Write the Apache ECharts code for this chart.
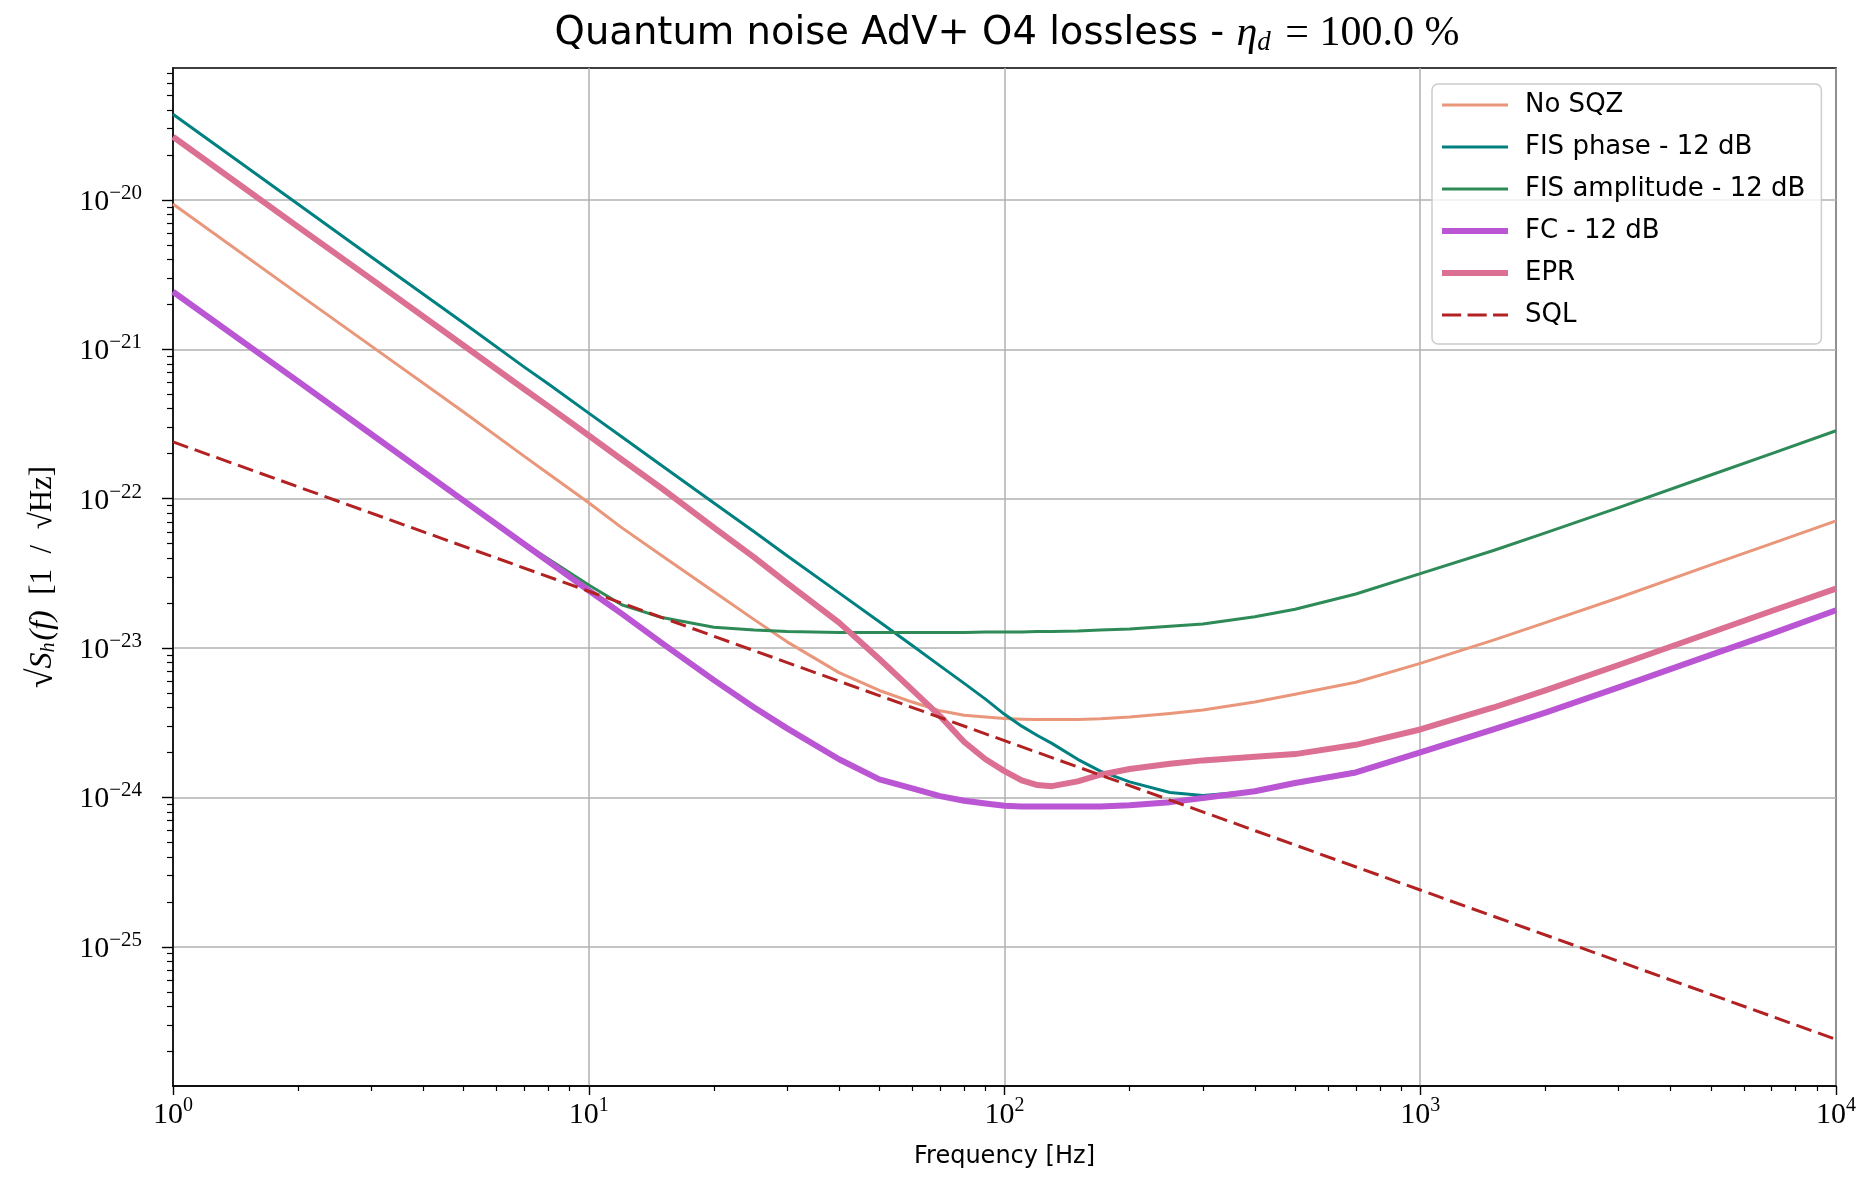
<!DOCTYPE html>
<html><head><meta charset="utf-8">
<script src="https://cdn.jsdelivr.net/npm/echarts@6/dist/echarts.min.js"></script>
<style>html,body{margin:0;padding:0;background:#fff}#c{width:1868px;height:1181px}</style>
</head><body><div id="c"></div>
<script>
// ---- data ----
const freq = [1, 2, 3, 5, 7, 8, 10, 12, 15, 20, 25, 30, 40, 50, 60, 70, 80, 90, 100, 110, 120, 130, 150, 170, 200, 250, 300, 400, 500, 700, 1000, 1500, 2000, 3000, 5000, 7000, 10000];
const noSqz = [9.4e-21, 2.35e-21, 1.05e-21, 3.8e-22, 1.92e-22, 1.47e-22, 9.4e-23, 6.4e-23, 4.15e-23, 2.38e-23, 1.55e-23, 1.1e-23, 6.85e-24, 5.2e-24, 4.35e-24, 3.8e-24, 3.55e-24, 3.45e-24, 3.38e-24, 3.34e-24, 3.32e-24, 3.32e-24, 3.33e-24, 3.36e-24, 3.45e-24, 3.65e-24, 3.85e-24, 4.35e-24, 4.9e-24, 5.9e-24, 7.9e-24, 1.13e-23, 1.48e-23, 2.17e-23, 3.6e-23, 5.0e-23, 7.1e-23];
const fisPhase = [3.74e-20, 9.35e-21, 4.15e-21, 1.5e-21, 7.6e-22, 5.85e-22, 3.74e-22, 2.6e-22, 1.66e-22, 9.35e-23, 6.0e-23, 4.15e-23, 2.34e-23, 1.5e-23, 1.04e-23, 7.6e-24, 5.8e-24, 4.55e-24, 3.6e-24, 3.0e-24, 2.6e-24, 2.3e-24, 1.8e-24, 1.5e-24, 1.27e-24, 1.08e-24, 1.03e-24, 1.1e-24, 1.25e-24, 1.5e-24, 2.0e-24, 2.85e-24, 3.7e-24, 5.45e-24, 9.0e-24, 1.25e-23, 1.78e-23];
const fisAmp = [2.43e-21, 6.1e-22, 2.7e-22, 9.8e-23, 5.0e-23, 3.95e-23, 2.64e-23, 1.95e-23, 1.6e-23, 1.38e-23, 1.32e-23, 1.29e-23, 1.27e-23, 1.27e-23, 1.27e-23, 1.27e-23, 1.27e-23, 1.28e-23, 1.28e-23, 1.28e-23, 1.29e-23, 1.29e-23, 1.3e-23, 1.32e-23, 1.34e-23, 1.4e-23, 1.45e-23, 1.62e-23, 1.82e-23, 2.3e-23, 3.15e-23, 4.5e-23, 5.9e-23, 8.7e-23, 1.44e-22, 2.0e-22, 2.85e-22];
const fc = [2.43e-21, 6.1e-22, 2.7e-22, 9.7e-23, 4.95e-23, 3.8e-23, 2.43e-23, 1.7e-23, 1.08e-23, 6.1e-24, 4.0e-24, 2.9e-24, 1.8e-24, 1.32e-24, 1.15e-24, 1.02e-24, 9.5e-25, 9.1e-25, 8.8e-25, 8.7e-25, 8.7e-25, 8.7e-25, 8.7e-25, 8.7e-25, 8.85e-25, 9.3e-25, 9.9e-25, 1.1e-24, 1.25e-24, 1.47e-24, 2.0e-24, 2.85e-24, 3.7e-24, 5.45e-24, 9.0e-24, 1.25e-23, 1.79e-23];
const epr = [2.65e-20, 6.6e-21, 2.95e-21, 1.06e-21, 5.4e-22, 4.15e-22, 2.65e-22, 1.83e-22, 1.17e-22, 6.4e-23, 4.05e-23, 2.72e-23, 1.48e-23, 8.45e-24, 5.25e-24, 3.5e-24, 2.35e-24, 1.8e-24, 1.5e-24, 1.3e-24, 1.21e-24, 1.19e-24, 1.28e-24, 1.42e-24, 1.55e-24, 1.68e-24, 1.77e-24, 1.87e-24, 1.95e-24, 2.25e-24, 2.85e-24, 4.0e-24, 5.2e-24, 7.7e-24, 1.27e-23, 1.77e-23, 2.5e-23];
const sqlFreq = [1, 10, 100, 1000, 10000];
const sql = [2.4e-22, 2.4e-23, 2.4e-24, 2.4e-25, 2.4e-26];

const seriesNames = ['No SQZ', 'FIS phase - 12 dB', 'FIS amplitude - 12 dB', 'FC - 12 dB', 'EPR', 'SQL'];
const seriesColors = ['#E9967A', '#008080', '#2E8B57', '#BA55D3', '#DB7093', '#B22222'];
const xMajorTicks = [1, 10, 100, 1000, 10000];
const yMajorTicks = [1e-25, 1e-24, 1e-23, 1e-22, 1e-21, 1e-20];
const xMin = 1, xMax = 10000, yMin = 1.17e-26, yMax = 7.64e-20;

const xMinorTicks = [];
for (let e = 0; e < 4; e++) for (let m = 2; m <= 9; m++) xMinorTicks.push(m * Math.pow(10, e));
const yMinorTicks = [];
for (let e = -26; e <= -20; e++) for (let m = 2; m <= 9; m++) {
  const v = Number(m + 'e' + e);
  if (v > yMin && v < yMax) yMinorTicks.push(v);
}

function pairs(xs, ys) { return xs.map((x, i) => [x, ys[i]]); }
function powLabel(v) {
  const e = Math.log10(v); const r = Math.round(e);
  if (Math.abs(e - r) > 1e-6) return '';
  return '{b|10}{e|' + (r < 0 ? '\u2212' + (-r) : String(r)) + '}';
}
const serif = "'Liberation Serif', 'DejaVu Serif', serif";
const sans = "'DejaVu Sans', sans-serif";
const labelRichX = {
  b: { fontFamily: serif, fontSize: 30, color: '#000', verticalAlign: 'bottom', lineHeight: 34 },
  e: { fontFamily: serif, fontSize: 20, color: '#000', verticalAlign: 'top', lineHeight: 20 }
};
const labelRichY = {
  b: { fontFamily: serif, fontSize: 30, color: '#000', verticalAlign: 'bottom', lineHeight: 34 },
  e: { fontFamily: serif, fontSize: 21, color: '#000', verticalAlign: 'top', lineHeight: 21 }
};
const gridLine = { show: true, lineStyle: { color: '#b0b0b0', width: 1.5, type: 'solid' } };

// legend glyphs: plain line samples (thin, thick, dashed)
const iconThin = 'path://M0,0H64V3H0Z';
const iconThick = 'path://M0,0H66V6H0Z';
const iconDash = 'path://M0,0H18V3H0Z M24,0H42V3H24Z M48,0H62V3H48Z';
const legendIcons = [iconThin, iconThin, iconThin, iconThick, iconThick, iconDash];

function mkSeries(i, xs, ys, width, type) {
  const color = seriesColors[i];
  return {
    name: seriesNames[i], type: 'line', data: pairs(xs, ys), showSymbol: false, symbol: 'none',
    smooth: false, animation: false, xAxisIndex: 0, yAxisIndex: 0,
    lineStyle: { color, width, type: type || 'solid', cap: 'butt', join: 'round' }, itemStyle: { color },
    emphasis: { disabled: true }
  };
}

const chart = echarts.init(document.getElementById('c'), null, { renderer: 'canvas' });
chart.setOption({
  backgroundColor: '#ffffff',
  animation: false,
  title: {
    left: 1002, top: 4, textAlign: 'center',
    text: '{a|Quantum noise AdV+ O4 lossless - }{m|\u03B7}{s|d}{r| = 100.0 %}',
    textStyle: {
      fontWeight: 'normal',
      rich: {
        a: { fontFamily: sans, fontWeight: 'normal', fontSize: 38.5, color: '#000', lineHeight: 50 },
        m: { fontFamily: serif, fontWeight: 'normal', fontStyle: 'italic', fontSize: 42, color: '#000', lineHeight: 50 },
        s: { fontFamily: serif, fontWeight: 'normal', fontStyle: 'italic', fontSize: 27, color: '#000', padding: [18, 4, 0, 0] },
        r: { fontFamily: serif, fontWeight: 'normal', fontSize: 42, color: '#000', lineHeight: 50 }
      }
    }
  },
  grid: {
    left: 173, right: 32, top: 68, bottom: 95, containLabel: false, outerBoundsMode: 'none',
    show: true, borderColor: '#000', borderWidth: 1.6, backgroundColor: 'transparent'
  },
  legend: {
    orient: 'vertical', left: 1432, top: 84,
    data: seriesNames.map((n, i) => ({ name: n, icon: legendIcons[i] })),
    itemWidth: 66, itemHeight: 14, itemGap: 12,
    padding: [6, 16, 14, 10],
    backgroundColor: 'rgba(255,255,255,0.8)', borderColor: '#cccccc', borderWidth: 1.5, borderRadius: 6,
    itemStyle: { borderWidth: 0 },
    lineStyle: { width: 0 },
    textStyle: { fontFamily: sans, fontSize: 26, color: '#000', lineHeight: 30, padding: [0, 0, 0, 12] },
    selectedMode: false, z: 10
  },
  xAxis: [
    {
      type: 'log', logBase: 10, min: xMin, max: xMax, gridIndex: 0, position: 'bottom',
      name: 'Frequency [Hz]', nameLocation: 'middle', nameGap: 59,
      nameTextStyle: { fontFamily: sans, fontSize: 24, color: '#000' },
      axisLine: { show: true, onZero: false, lineStyle: { color: '#000', width: 1.6 } },
      axisTick: { show: true, inside: false, length: 9, customValues: xMajorTicks, lineStyle: { color: '#000', width: 1.4 } },
      axisLabel: { show: true, margin: 10, customValues: xMajorTicks, formatter: powLabel, rich: labelRichX },
      splitLine: gridLine, minorTick: { show: false }, minorSplitLine: { show: false }
    },
    {
      type: 'log', logBase: 10, min: xMin, max: xMax, gridIndex: 0, position: 'bottom',
      axisLine: { show: false, onZero: false },
      axisTick: { show: true, inside: false, length: 5, customValues: xMinorTicks, lineStyle: { color: '#000', width: 1.2 } },
      axisLabel: { show: false }, splitLine: { show: false }
    }
  ],
  yAxis: [
    {
      type: 'log', logBase: 10, min: yMin, max: yMax, gridIndex: 0, position: 'left',
      name: '{r|\u221A}{i|S}{sub|h}{i|(f)}{n|  [1  /  \u221AHz]}', nameLocation: 'middle', nameGap: 112, nameRotate: 90,
      nameTextStyle: {
        rich: {
          r: { fontFamily: serif, fontSize: 36, color: '#000' },
          i: { fontFamily: serif, fontStyle: 'italic', fontSize: 32, color: '#000' },
          sub: { fontFamily: serif, fontStyle: 'italic', fontSize: 20, color: '#000', padding: [12, 2, 0, 0] },
          n: { fontFamily: serif, fontSize: 31, color: '#000' }
        }
      },
      axisLine: { show: true, onZero: false, lineStyle: { color: '#000', width: 1.6 } },
      axisTick: { show: true, inside: false, length: 11, customValues: yMajorTicks, lineStyle: { color: '#000', width: 1.4 } },
      axisLabel: { show: true, margin: 31, customValues: yMajorTicks, formatter: powLabel, rich: labelRichY },
      splitLine: gridLine, minorTick: { show: false }, minorSplitLine: { show: false }
    },
    {
      type: 'log', logBase: 10, min: yMin, max: yMax, gridIndex: 0, position: 'left',
      axisLine: { show: false, onZero: false },
      axisTick: { show: true, inside: false, length: 6, customValues: yMinorTicks, lineStyle: { color: '#000', width: 1.2 } },
      axisLabel: { show: false }, splitLine: { show: false }
    }
  ],
  series: [
    mkSeries(0, freq, noSqz, 3),
    mkSeries(1, freq, fisPhase, 3),
    mkSeries(2, freq, fisAmp, 3),
    mkSeries(3, freq, fc, 6),
    mkSeries(4, freq, epr, 6),
    mkSeries(5, sqlFreq, sql, 3, [16, 7])
  ]
});
</script></body></html>
